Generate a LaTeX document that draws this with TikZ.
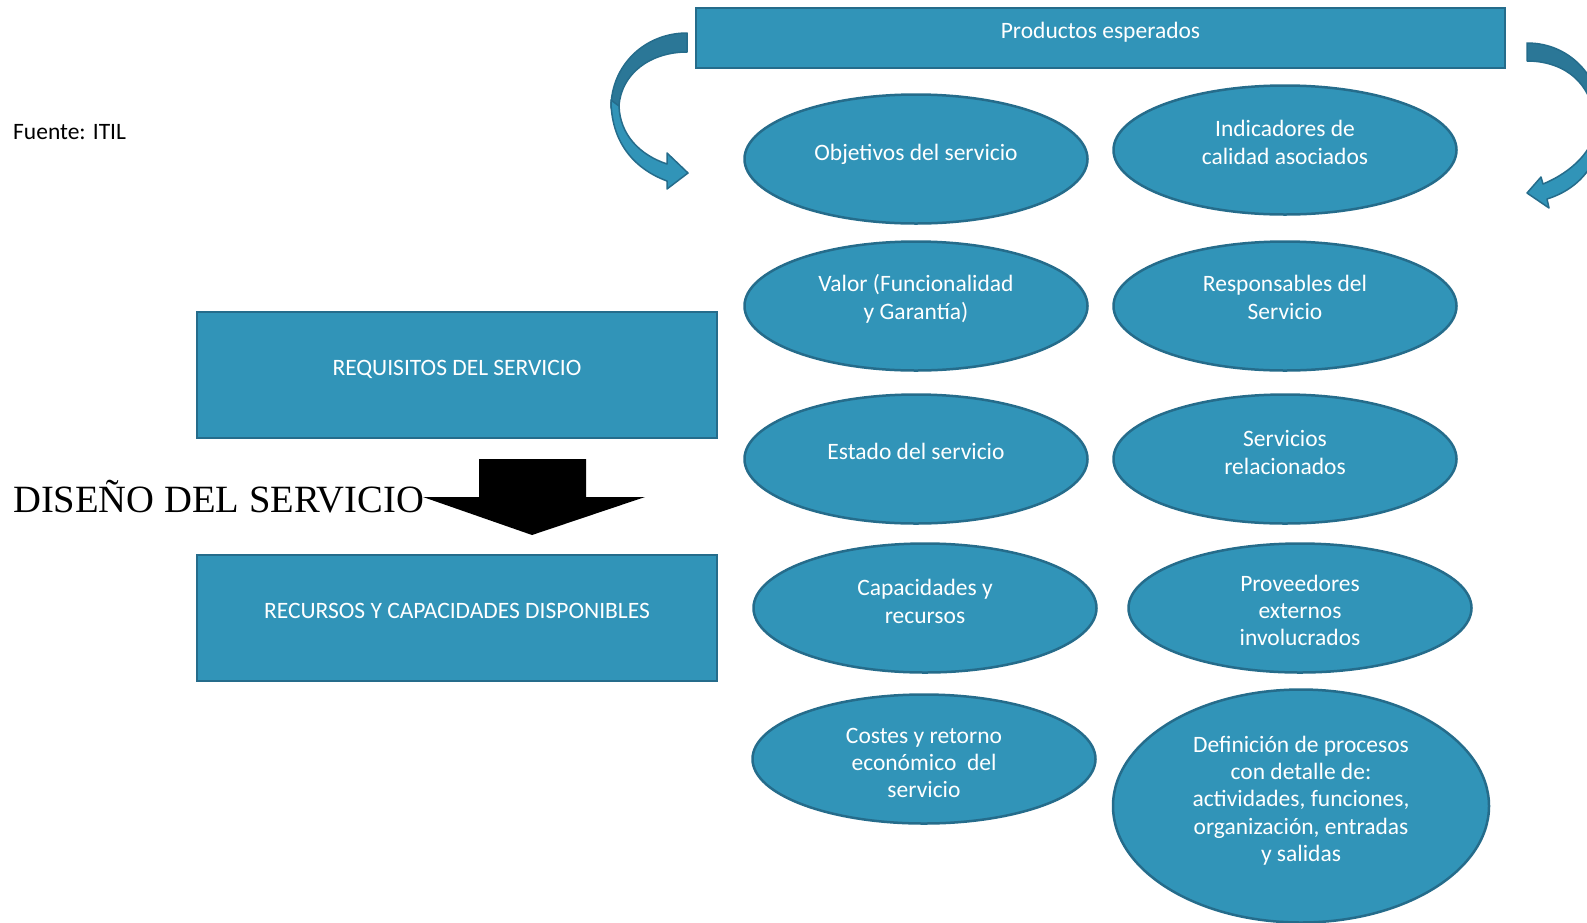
\documentclass[tikz,border=0pt]{standalone}
\usepackage{fontspec}
\setmainfont{Carlito}
\newfontfamily\serifhead{Liberation Serif}
\usetikzlibrary{shapes.geometric}

\definecolor{tealfill}{HTML}{3194B8}
\definecolor{tealedge}{HTML}{256C8B}
\definecolor{tealback}{HTML}{2B7797}

\begin{document}
\begin{tikzpicture}[x=1pt,y=-1pt,
  bubble/.style={ellipse, draw=tealedge, fill=tealfill, line width=2.5pt,
    inner sep=0pt, minimum width=343pt, minimum height=129pt},
  panel/.style={rectangle, draw=tealedge, fill=tealfill, line width=2pt,
    inner sep=0pt},
  caption/.style={text=white, align=center, inner sep=0pt,
    font=\fontsize{23.5}{27.3}\selectfont},
  ribbon/.style={draw=tealedge, line width=1.5pt, line join=round},
]
\useasboundingbox (0,0) rectangle (1587,922);
\fill[white] (0,0) rectangle (1587,922);

% source note
\node[anchor=west, inner sep=0pt, font=\fontsize{23.5}{27.3}\selectfont]
  (src) at (13,134) {\strut Fuente: ITIL};

% header bar
\node[panel, minimum width=809pt, minimum height=60pt] (prod) at (1100.5,38) {};
\node[caption] (prodt) at ([yshift=5pt]prod.center) {\strut Productos esperados};

% curved arrow on the left
\fill[tealback, ribbon] (687,33) .. controls (645,33) and (611,65) .. (611,108)
  -- (619,106) .. controls (621,74) and (650,52) .. (687,52) -- cycle;
\fill[tealfill, ribbon] (611,100) .. controls (611,140) and (632,168) .. (667,181)
  -- (667,189) -- (688,173) -- (667,153) -- (667,164)
  .. controls (640,155) and (620,135) .. (619,106) -- cycle;

% curved arrow on the right
\fill[tealback, ribbon] (1527,43) .. controls (1572,43) and (1603,80) .. (1603,125)
  -- (1595,128) .. controls (1595,86) and (1567,61) .. (1527,61) -- cycle;
\fill[tealfill, ribbon] (1603,118) .. controls (1603,160) and (1582,188) .. (1547,199)
  -- (1549,208) -- (1527,193) -- (1541,177) -- (1543,184)
  .. controls (1572,172) and (1594,150) .. (1595,128) -- cycle;

% left column of panels
\node[panel, minimum width=520pt, minimum height=126pt] (req) at (457,375) {};
\node[caption] (reqt) at ([yshift=5pt]req.center) {\strut REQUISITOS DEL SERVICIO};
\node[panel, minimum width=520pt, minimum height=126pt] (rec) at (457,618) {};
\node[caption] (rect) at ([yshift=5pt]rec.center) {\strut RECURSOS Y CAPACIDADES DISPONIBLES};

% design arrow
\node[anchor=base west, inner sep=0pt, font=\serifhead\fontsize{38.6}{44}\selectfont]
  (dis) at (13,512) {DISEÑO DEL SERVICIO};
\fill[black] (479,459) -- (586,459) -- (586,497) -- (645,497) -- (532,535)
  -- (423,497) -- (479,497) -- cycle;

% ellipses, first column
\node[bubble] (obj) at (916,159) {};
\node[caption] (objt) at ([yshift=4pt]obj.center) {\strut Objetivos del servicio};
\node[bubble] (val) at (916,306) {};
\node[caption] (valt) at ([yshift=6pt]val.center) {\strut Valor (Funcionalidad\\\strut y Garantía)};
\node[bubble] (est) at (916,459) {};
\node[caption] (estt) at ([yshift=5pt]est.center) {\strut Estado del servicio};
\node[bubble] (cap) at (925,608) {};
\node[caption] (capt) at ([yshift=4pt]cap.center) {\strut Capacidades y\\\strut recursos};
\node[bubble] (cost) at (924,759) {};
\node[caption] (costt) at ([yshift=-6pt]cost.center) {\strut Costes y retorno\\\strut económico\ \ del\\\strut servicio};

% ellipses, second column
\node[bubble] (ind) at (1285,150) {};
\node[caption] (indt) at ([yshift=5pt]ind.center) {\strut Indicadores de\\\strut calidad asociados};
\node[bubble] (resp) at (1285,306) {};
\node[caption] (respt) at ([yshift=6pt]resp.center) {\strut Responsables del\\\strut Servicio};
\node[bubble] (serv) at (1285,459) {};
\node[caption] (servt) at ([yshift=4pt]serv.center) {\strut Servicios\\\strut relacionados};
\node[bubble] (prov) at (1300,608) {};
\node[caption] (provt) at ([yshift=-5pt]prov.center) {\strut Proveedores\\\strut externos\\\strut involucrados};
\node[bubble, minimum width=376pt, minimum height=233pt] (def) at (1301,806) {};
\node[caption] (deft) at ([yshift=4.5pt]def.center)
  {\strut Definición de procesos\\\strut con detalle de:\\\strut actividades, funciones,\\\strut organización, entradas\\\strut y salidas};
\end{tikzpicture}
\end{document}
